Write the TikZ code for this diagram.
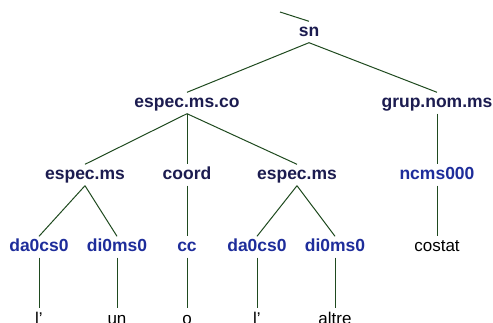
\documentclass[tikz,border=0pt]{standalone}
\usepackage{fontspec}
\setmainfont{Liberation Sans}
\definecolor{navy}{HTML}{1C1C50}
\definecolor{tagblue}{HTML}{1E2D9B}
\definecolor{edgegreen}{HTML}{1F4A1F}
\begin{document}
\begin{tikzpicture}[x=1pt,y=-1pt,
  lbl/.style={inner sep=0pt, text height=15.5pt, text depth=5.5pt, font=\fontsize{17.5}{19}\selectfont\bfseries},
  cat/.style={lbl, text=navy},
  tag/.style={lbl, text=tagblue},
  word/.style={inner sep=0pt, text height=15.5pt, text depth=5.5pt, font=\fontsize{17}{19}\selectfont, text=black},
  edge/.style={draw=edgegreen, line width=1pt}]
\useasboundingbox (0,0) rectangle (493,323);
\clip (0,0) rectangle (493,323);
\fill[white] (0,0) rectangle (493,323);
\node[cat] (sn) at (309,32) {sn};
\node[cat] (emc) at (187,103) {espec.ms.co};
\node[cat] (gnm) at (437,103) {grup.nom.ms};
\node[cat] (em1) at (85,175) {espec.ms};
\node[cat] (coord) at (187,175) {coord};
\node[cat] (em2) at (297,175) {espec.ms};
\node[tag] (ncms) at (437,175) {ncms000};
\node[tag] (da1) at (39,247) {da0cs0};
\node[tag] (di1) at (117,247) {di0ms0};
\node[tag] (cc) at (187,247) {cc};
\node[tag] (da2) at (257,247) {da0cs0};
\node[tag] (di2) at (335,247) {di0ms0};
\node[word] (costat) at (437,247) {costat};
\node[word] (w1) at (39,319) {l’};
\node[word] (w2) at (117,319) {un};
\node[word] (w3) at (187,319) {o};
\node[word] (w4) at (257,319) {l’};
\node[word] (w5) at (335,319) {altre};
\coordinate (up) at (280,12);
\draw[edge] (sn.north) -- (up);
\draw[edge] (sn.south) -- (emc.north);
\draw[edge] (sn.south) -- (gnm.north);
\draw[edge] (emc.south) -- (em1.north);
\draw[edge] (emc.south) -- (coord.north);
\draw[edge] (emc.south) -- (em2.north);
\draw[edge] (gnm.south) -- (ncms.north);
\draw[edge] (em1.south) -- (da1.north);
\draw[edge] (em1.south) -- (di1.north);
\draw[edge] (coord.south) -- (cc.north);
\draw[edge] (em2.south) -- (da2.north);
\draw[edge] (em2.south) -- (di2.north);
\draw[edge] (ncms.south) -- (costat.north);
\draw[edge] (da1.south) -- (w1.north);
\draw[edge] (di1.south) -- (w2.north);
\draw[edge] (cc.south) -- (w3.north);
\draw[edge] (da2.south) -- (w4.north);
\draw[edge] (di2.south) -- (w5.north);
\end{tikzpicture}
\end{document}
